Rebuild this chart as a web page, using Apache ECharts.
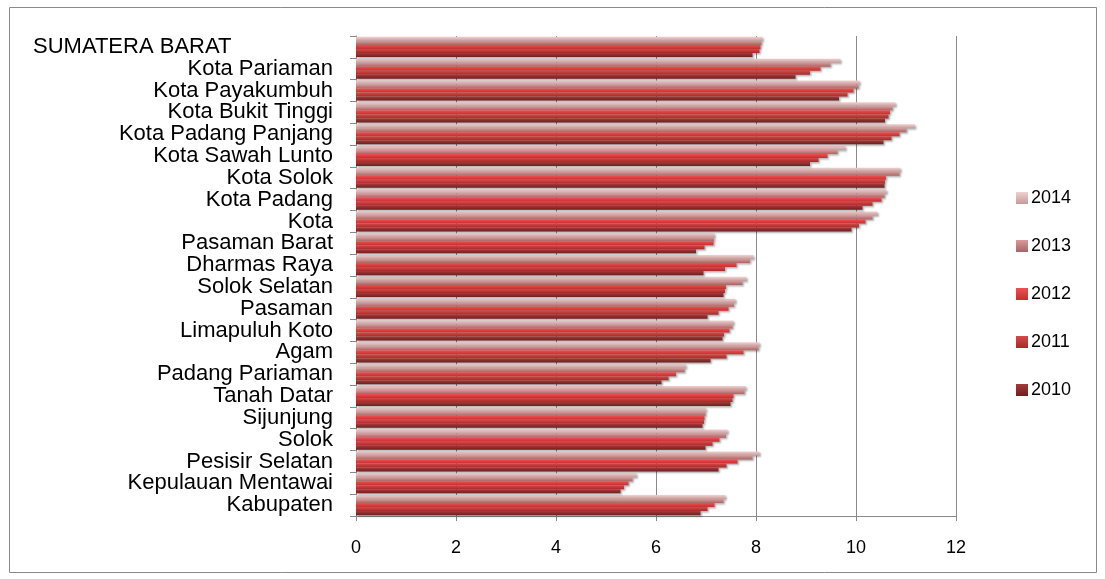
<!DOCTYPE html>
<html>
<head>
<meta charset="utf-8">
<script src="https://cdn.jsdelivr.net/npm/echarts@6/dist/echarts.min.js"></script>
<style>
html,body{margin:0;padding:0;background:#fff;}
#chart{width:1105px;height:579px;}
</style>
</head>
<body>
<div id="chart"></div>
<script>
// Categories, bottom to top
var categories = ['Kabupaten','Kepulauan Mentawai','Pesisir Selatan','Solok','Sijunjung','Tanah Datar','Padang Pariaman','Agam','Limapuluh Koto','Pasaman','Solok Selatan','Dharmas Raya','Pasaman Barat','Kota','Kota Padang','Kota Solok','Kota Sawah Lunto','Kota Padang Panjang','Kota Bukit Tinggi','Kota Payakumbuh','Kota Pariaman','SUMATERA BARAT'];
var years = ['2014','2013','2012','2011','2010'];
var v2010 = [6.89,5.29,7.25,6.99,6.93,7.49,6.11,7.09,7.33,7.03,7.35,6.95,6.80,9.91,10.13,10.57,9.08,10.55,10.58,9.66,8.79,7.93];
var v2011 = [7.03,5.36,7.41,7.13,6.96,7.53,6.25,7.41,7.36,7.25,7.38,7.38,6.97,10.06,10.33,10.58,9.25,10.71,10.65,9.83,9.08,8.07];
var v2012 = [7.17,5.45,7.63,7.27,6.97,7.55,6.40,7.75,7.47,7.45,7.40,7.61,7.15,10.19,10.51,10.60,9.43,10.87,10.68,9.95,9.29,8.09];
var v2013 = [7.35,5.53,7.93,7.40,6.99,7.77,6.57,8.05,7.53,7.56,7.73,7.88,7.16,10.33,10.57,10.87,9.63,11.01,10.73,10.05,9.49,8.11];
var v2014 = [7.39,5.61,8.07,7.43,7.00,7.80,6.60,8.07,7.55,7.59,7.81,7.95,7.17,10.43,10.61,10.89,9.79,11.18,10.79,10.07,9.69,8.13];
var xTicks = [0,2,4,6,8,10,12];

var seriesData = [v2014, v2013, v2012, v2011, v2010];
var colorStops = [
  ['#f0d0d0','#c79a9a'],
  ['#d99a9a','#a86565'],
  ['#ee5050','#c42f2f'],
  ['#d44a4a','#a82828'],
  ['#a63a3a','#6e1f1f']
];
var legendColors = ['#d6a9ab','#c47b7d','#d63b3b','#c03232','#8e2b2b'];

var chart = echarts.init(document.getElementById('chart'));
var series = years.map(function(y, i){
  return {
    name: y,
    type: 'bar',
    data: seriesData[i],
    barGap: '0%',
    barCategoryGap: '8%',
    color: legendColors[i],
    itemStyle: {
      color: new echarts.graphic.LinearGradient(0,0,0,1,[
        {offset:0, color: colorStops[i][0]},
        {offset:1, color: colorStops[i][1]}
      ]),
      shadowColor: 'rgba(0,0,0,0.3)',
      shadowBlur: 2,
      shadowOffsetX: 1.5,
      shadowOffsetY: 1.5
    },
    emphasis: {disabled: true},
    animation: false
  };
});

chart.setOption({
  animation: false,
  backgroundColor: '#fff',
  graphic: [{
    type: 'rect',
    shape: {x: 9.5, y: 7.5, width: 1087, height: 565},
    style: {fill: 'none', stroke: '#8a8a8a', lineWidth: 1},
    silent: true
  }],
  grid: {left: 356, right: 149, top: 36, bottom: 63, containLabel: false},
  legend: {
    orient: 'vertical',
    left: 1011,
    top: 184,
    itemWidth: 12,
    itemHeight: 12,
    itemGap: 30,
    icon: 'rect',
    data: ['2014','2013','2012','2011','2010'],
    textStyle: {fontFamily: 'Liberation Sans', fontSize: 18, color: '#000', padding: [0,0,0,-2]}
  },
  xAxis: {
    type: 'value',
    min: 0,
    max: 12,
    interval: 2,
    axisLine: {show: true, lineStyle: {color: '#8a8a8a', width: 1}},
    axisTick: {show: true, length: 5, lineStyle: {color: '#8a8a8a'}},
    splitLine: {show: true, lineStyle: {color: '#8a8a8a', width: 1}},
    axisLabel: {
      margin: 23,
      fontFamily: 'Liberation Sans',
      fontSize: 18,
      color: '#000',
      formatter: function(v){ return xTicks.indexOf(v) >= 0 ? String(v) : ''; }
    }
  },
  yAxis: {
    type: 'category',
    data: categories,
    axisLine: {show: true, lineStyle: {color: '#8a8a8a', width: 1}},
    axisTick: {show: true, length: 6, lineStyle: {color: '#8a8a8a'}},
    axisLabel: {
      interval: 0,
      margin: 23,
      fontFamily: 'Liberation Sans',
      fontSize: 22,
      color: '#000',
      formatter: function(v){
        if (v === 'SUMATERA BARAT') return '{a|' + v + '}';
        return v;
      },
      rich: {
        a: {width: 300, align: 'left', fontFamily: 'Liberation Sans', fontSize: 22, color: '#000'}
      }
    }
  },
  series: series
});
</script>
</body>
</html>
